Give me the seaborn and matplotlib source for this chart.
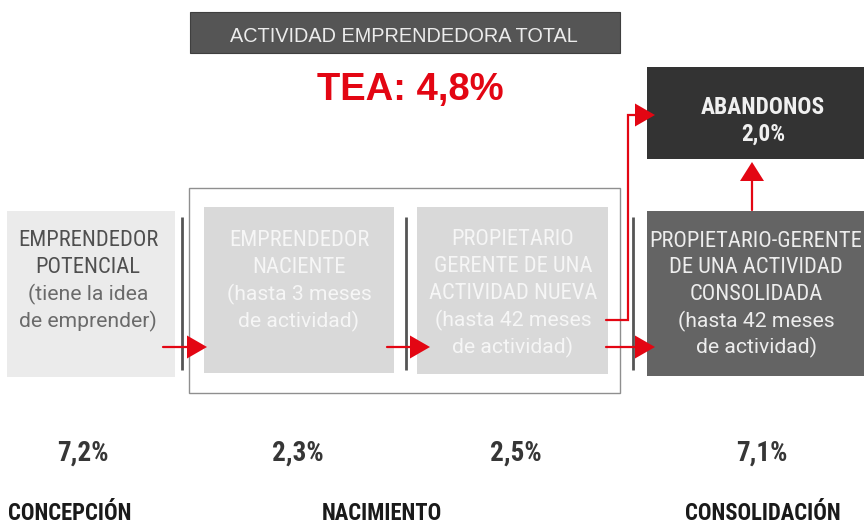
import matplotlib
matplotlib.use("Agg")
import matplotlib.pyplot as plt
from matplotlib import font_manager as fm
from matplotlib.patches import Rectangle, Polygon
import seaborn as sns

# ---------------- data ----------------
stage_titles = [
    ["EMPRENDEDOR", "POTENCIAL"],
    ["EMPRENDEDOR", "NACIENTE"],
    ["PROPIETARIO", "GERENTE DE UNA", "ACTIVIDAD NUEVA"],
    ["PROPIETARIO-GERENTE", "DE UNA ACTIVIDAD", "CONSOLIDADA"],
]
stage_notes = [
    ["(tiene la idea", "de emprender)"],
    ["(hasta 3 meses", "de actividad)"],
    ["(hasta 42 meses", "de actividad)"],
    ["(hasta 42 meses", "de actividad)"],
]
stage_rates = [7.2, 2.3, 2.5, 7.1]
phase_labels = ["CONCEPCIÓN", "NACIMIENTO", "CONSOLIDACIÓN"]
tea_label = "ACTIVIDAD EMPRENDEDORA TOTAL"
tea_value = 4.8
abandon_label = "ABANDONOS"
abandon_value = 2.0


def pct(v):
    return f"{v:.1f}".replace(".", ",") + "%"


# ---------------- style ----------------
sns.set_theme(style="white")
REG = ["Liberation Sans", "DejaVu Sans"]
plt.rcParams["font.family"] = REG

entries = fm.fontManager.ttflist
names = {f.name for f in entries}
NARROW = None
NSTRETCH = "normal"
SCALE = 1.0
for cand in ["Liberation Sans Narrow", "Roboto Condensed", "Open Sans Condensed",
             "Noto Sans Condensed", "Arial Narrow", "Nimbus Sans Narrow"]:
    if cand in names:
        NARROW = [cand, "DejaVu Sans"]
        break
if NARROW is None:
    cond = [f for f in entries if f.stretch in ("condensed", "semi-condensed", "narrow")]
    if cond:
        NARROW = [cond[0].name, "DejaVu Sans"]
        NSTRETCH = "condensed"
    else:
        NARROW = REG
        SCALE = 0.86
NOTE = ["Roboto", "DejaVu Sans"] if "Roboto" in names else NARROW

RED = "#e30613"

fig = plt.figure(figsize=(8.64, 5.25), dpi=100)
ax = fig.add_axes([0, 0, 1, 1])
ax.set_xlim(0, 864)
ax.set_ylim(525, 0)
ax.axis("off")
sns.despine(ax=ax, left=True, bottom=True)


def ntext(x, y, s, size, fam=None, **kw):
    ax.text(x, y, s, ha="center", va="baseline", fontsize=size * SCALE,
            family=fam or NARROW, fontstretch=NSTRETCH if fam is None else "normal",
            zorder=3, **kw)


# layout (pixel space)
boxes = [  # x0, y0, x1, y1, face, title colour, note colour
    (7, 211, 175, 377, "#ebebeb", "#4f4f4f", "#6a6a6a"),
    (204, 207, 394, 373, "#d9d9d9", "#f6f6f6", "#f6f6f6"),
    (417, 207, 608, 374, "#d9d9d9", "#f6f6f6", "#f6f6f6"),
    (647, 211, 880, 376, "#646464", "#ededed", "#ededed"),
]
title_base = [[246, 273], [246, 273], [245, 272, 299], [247, 273, 300]]
note_base = [[300, 327], [300, 327], [326, 353], [327, 353]]
text_cx = [88, 299, 513, 756]

for i, (x0, y0, x1, y1, fc, tc, nc) in enumerate(boxes):
    ax.add_patch(Rectangle((x0, y0), x1 - x0, y1 - y0, facecolor=fc, edgecolor="none", zorder=1))
    for line, yb in zip(stage_titles[i], title_base[i]):
        ntext(text_cx[i], yb, line, 16.2, color=tc)
    for line, yb in zip(stage_notes[i], note_base[i]):
        ntext(text_cx[i], yb, line, 15.2, fam=NOTE, color=nc)

# TEA frame
ax.add_patch(Rectangle((189, 188), 620 - 189, 393 - 188, facecolor="none",
                       edgecolor="#8f8f8f", lw=1.0, zorder=0.5))

# top banner
ax.add_patch(Rectangle((190, 12), 430, 41, facecolor="#555555", edgecolor="#3f3f3f", lw=0.8, zorder=1))
ax.text(404, 41.5, tea_label, ha="center", va="baseline", fontsize=14.3, family=REG,
        color="#ececec", zorder=3)
ax.text(410, 100, "TEA: " + pct(tea_value), ha="center", va="baseline", fontsize=27.5,
        family=REG, weight="bold", color=RED, zorder=3)

# abandonos box
ax.add_patch(Rectangle((647, 67), 240, 92, facecolor="#333333", edgecolor="none", zorder=1))
ntext(763, 114, abandon_label, 16.8, weight="semibold", color="#f0f0f0")
ntext(763, 141, pct(abandon_value), 16.8, weight="semibold", color="#f0f0f0")

# vertical separators
for xs in [182, 406, 633]:
    ax.plot([xs, xs], [217, 370], color="#555555", lw=2.0, solid_capstyle="butt", zorder=2)


# arrows
def head_right(xt, y, L=20, h=11.5):
    ax.add_patch(Polygon([(xt, y), (xt - L, y - h), (xt - L, y + h)], closed=True,
                         facecolor=RED, edgecolor="none", zorder=4))


def head_up(x, yt, L=19, h=12):
    ax.add_patch(Polygon([(x, yt), (x - h, yt + L), (x + h, yt + L)], closed=True,
                         facecolor=RED, edgecolor="none", zorder=4))


lw_a = 1.6
for xs, xt in [(163, 207), (387, 430), (606, 655)]:
    ax.plot([xs, xt - 15], [347, 347], color=RED, lw=lw_a, zorder=4)
    head_right(xt, 347)

ax.plot([606, 628, 628, 640], [320, 320, 115, 115], color=RED, lw=lw_a, zorder=4,
        solid_joinstyle="miter")
head_right(655, 115)

ax.plot([752, 752], [210, 176], color=RED, lw=lw_a, zorder=4)
head_up(752, 162)

# bottom percentages
for cx, v in zip([83, 298, 516, 762], stage_rates):
    ntext(cx, 461, pct(v), 19.5, weight="semibold", color="#363636")

# phase labels
for cx, yb, lab in zip([70, 382, 763], [520, 520, 520], phase_labels):
    ntext(cx, yb, lab, 16.3, weight="bold", color="#1a1a1a")

fig.savefig("out.png", dpi=100)
